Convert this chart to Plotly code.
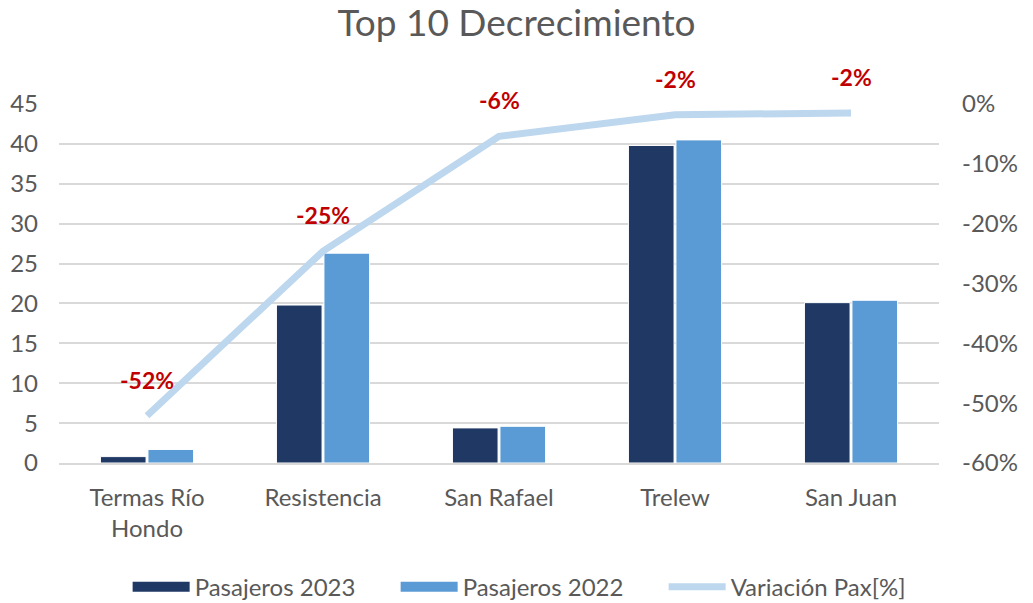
import plotly.graph_objects as go

categories = ["Termas Río<br>Hondo", "Resistencia", "San Rafael", "Trelew", "San Juan"]
pax_2023 = [0.8, 19.8, 4.4, 39.8, 20.1]
pax_2022 = [1.7, 26.3, 4.6, 40.5, 20.4]
variacion = [-0.521, -0.246, -0.054, -0.018, -0.015]
var_labels = ["-52%", "-25%", "-6%", "-2%", "-2%"]
pct_tickvals = [-0.6, -0.5, -0.4, -0.3, -0.2, -0.1, 0.0]
pct_ticktext = ["-60%", "-50%", "-40%", "-30%", "-20%", "-10%", "0%"]

FONT = "Lato"
GRAY = "#595959"
C23, C22, CVAR = "#203864", "#5B9BD5", "#BDD7EE"

fig = go.Figure()
fig.add_trace(go.Bar(name="Pasajeros 2023", x=categories, y=pax_2023, showlegend=False,
                     marker=dict(color=C23, line=dict(color="white", width=1))))
fig.add_trace(go.Bar(name="Pasajeros 2022", x=categories, y=pax_2022, showlegend=False,
                     marker=dict(color=C22, line=dict(color="white", width=1))))
fig.add_trace(go.Scatter(name="Variación Pax[%]", x=categories, y=variacion, yaxis="y2",
                         mode="lines", line=dict(color=CVAR, width=7), showlegend=False))

# legend proxies (wide rectangles like the original)
fig.add_trace(go.Scatter(name="Pasajeros 2023", x=[None], y=[None], mode="lines",
                         line=dict(color=C23, width=18)))
fig.add_trace(go.Scatter(name="Pasajeros 2022", x=[None], y=[None], mode="lines",
                         line=dict(color=C22, width=18)))
fig.add_trace(go.Scatter(name="Variación Pax[%]", x=[None], y=[None], mode="lines",
                         line=dict(color=CVAR, width=7)))

for c, v, t in zip(categories, variacion, var_labels):
    fig.add_annotation(x=c, y=v, yref="y2", text="<b>%s</b>" % t, showarrow=False,
                       yshift=36, font=dict(family=FONT, size=23, color="#C00000"))

fig.update_layout(
    width=1033, height=603,
    paper_bgcolor="white", plot_bgcolor="white",
    font=dict(family=FONT, size=24, color=GRAY),
    title=dict(text="Top 10 Decrecimiento", x=0.5, xanchor="center", y=0.962, yanchor="middle",
               font=dict(family=FONT, size=37, color=GRAY)),
    margin=dict(l=59, r=94, t=104, b=140, autoexpand=False),
    barmode="group", bargap=0.46, bargroupgap=0.04,
    showlegend=True,
    legend=dict(orientation="h", x=0.078, xanchor="left", y=-0.346, yanchor="middle",
                font=dict(family=FONT, size=24, color=GRAY), itemwidth=57,
                entrywidth=196, entrywidthmode="pixels", traceorder="normal"),
    xaxis=dict(showgrid=False, ticks="", showline=True, linecolor="#D9D9D9", linewidth=2,
               automargin=False, ticklabelstandoff=12,
               tickfont=dict(family=FONT, size=24, color=GRAY)),
    yaxis=dict(range=[0, 45], dtick=5, showgrid=True, gridcolor="#D9D9D9", gridwidth=1.5,
               zeroline=False, ticks="", automargin=False, ticklabelstandoff=20,
               tickfont=dict(family=FONT, size=24, color=GRAY)),
    yaxis2=dict(range=[-0.6, 0], tickvals=pct_tickvals, ticktext=pct_ticktext,
                overlaying="y", side="right",
                showgrid=False, zeroline=False, ticks="", automargin=False, ticklabelstandoff=22,
                tickfont=dict(family=FONT, size=24, color=GRAY)),
)

fig.write_html("out.html", config={"displayModeBar": False},
               post_script="document.body.style.margin='0px';")
